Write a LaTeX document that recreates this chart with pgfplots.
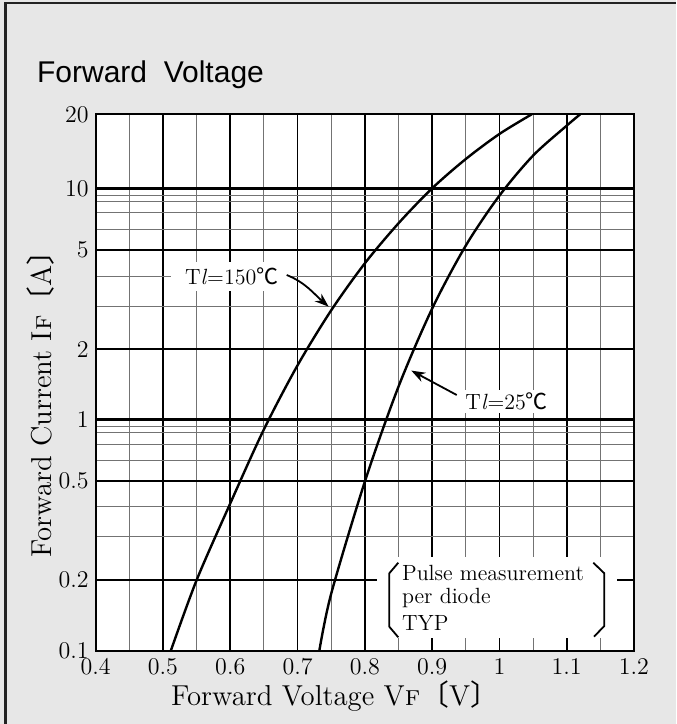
\documentclass[border=0pt]{standalone}
\usepackage{fontspec}
\usepackage{pgfplots}
\pgfplotsset{compat=1.18}
\usetikzlibrary{arrows.meta}
\newfontfamily\titlefont{Liberation Sans}
\newfontfamily\cjk{Noto Sans CJK JP}
\definecolor{bggray}{RGB}{231,231,231}
\definecolor{framegray}{RGB}{35,35,35}

\begin{document}
\begin{tikzpicture}
% page background and frame
\fill[bggray] (-47.85pt,-36.5pt) rectangle (290.15pt,325.5pt);
\draw[framegray, line width=1.1pt] (-45.1pt,-36.5pt) -- (-45.1pt,324pt) -- (290.15pt,324pt);
\node[anchor=base west, inner sep=0pt, font=\titlefont\fontsize{15}{15}\selectfont] at (-29.5pt,284pt) {Forward\ \ Voltage};

\begin{axis}[
    at={(0,0)}, anchor=south west,
    scale only axis, width=269.15pt, height=268.35pt,
    xmin=0.4, xmax=1.2,
    ymode=log, ymin=0.1, ymax=20,
    axis background/.style={fill=white},
    axis line style={line width=1pt},
    xtick={0.4,0.5,0.6,0.7,0.8,0.9,1,1.1,1.2},
    xticklabels={0.4,0.5,0.6,0.7,0.8,0.9,1,1.1,1.2},
    minor xtick={0.45,0.55,0.65,0.75,0.85,0.95,1.05,1.15},
    % grid lines sit where the printed sheet has them
    ytick={0.1,0.2014,0.535,0.984,1.965,5.238,9.632,20},
    yticklabels={0.1,0.2,0.5,1,2,5,10,20},
    minor ytick={0.309,0.418,0.657,0.769,0.862,0.921,2.992,4.05,6.424,7.561,8.436,9.014},
    extra y ticks={0.984,9.632}, extra y tick labels={},
    extra y tick style={grid=major, major grid style={black, line width=1.5pt}},
    grid=both,
    major grid style={black, line width=0.9pt},
    minor grid style={black!55, line width=0.45pt},
    major tick length=0pt, minor tick length=0pt,
    tick label style={font=\fontsize{12}{12}\selectfont},
    xlabel={Forward Voltage V\textsc{f}{\cjk 〔}V{\cjk 〕}},
    ylabel={Forward Current I\textsc{f}{\cjk 〔}A{\cjk 〕}},
    xlabel style={at={(axis description cs:0.4446,0)}, anchor=base, yshift=-27pt, font=\fontsize{14.4}{14.4}\selectfont},
    ylabel style={at={(axis description cs:-0.0812,0.473)}, anchor=base, font=\fontsize{14.4}{14.4}\selectfont},
]
% Tl = 150 C
\addplot[black, line width=1.2pt, smooth] coordinates {
    (0.5115,0.1) (0.55,0.2014) (0.60,0.4295) (0.65,0.8916) (0.70,1.678)
    (0.75,2.888) (0.80,4.594) (0.85,6.818) (0.90,9.632) (0.95,12.86)
    (1.00,16.47) (1.048,20)
};
% Tl = 25 C
\addplot[black, line width=1.2pt, smooth] coordinates {
    (0.7323,0.1) (0.75,0.1761) (0.80,0.5322) (0.85,1.359) (0.90,2.936)
    (0.95,5.47) (1.00,8.96) (1.05,13.30) (1.10,17.88) (1.12,20)
};
\end{axis}

% annotations
\node[fill=white, inner xsep=7pt, inner ysep=3pt, font=\fontsize{11}{11}\selectfont] at (68pt,187.15pt) {T\textit{l}=150{\cjk ℃}};
\draw[line width=0.9pt, -{Stealth[length=7pt,width=5pt]}] (95.5pt,188pt) to[out=-22,in=139] (116.5pt,172.15pt);

\node[fill=white, inner xsep=2pt, inner ysep=1.5pt, font=\fontsize{11}{11}\selectfont] at (205.5pt,124.65pt) {T\textit{l}=25{\cjk ℃}};
\draw[line width=0.9pt, -{Stealth[length=7pt,width=5pt]}] (180.5pt,128pt) -- (157.8pt,140.2pt);

\fill[white] (140.5pt,6.35pt) rectangle (260.5pt,47.15pt);
\draw[line width=0.9pt] (151.3pt,44.15pt) -- (146.8pt,38.85pt) -- (146.8pt,12.15pt) -- (151.3pt,6.85pt);
\draw[line width=0.9pt] (248.8pt,44.15pt) -- (254.3pt,38.85pt) -- (254.3pt,12.5pt) -- (249.15pt,7.15pt);
\begin{scope}[every node/.style={anchor=base west, inner sep=0pt, font=\fontsize{11}{11}\selectfont}]
\node at (153pt,35pt) {Pulse measurement};
\node at (153pt,23.85pt) {per diode};
\node at (153pt,10.15pt) {TYP};
\end{scope}

\pgfresetboundingbox
\useasboundingbox (-47.85pt,-36.5pt) rectangle (290.15pt,325.5pt);
\end{tikzpicture}
\end{document}
